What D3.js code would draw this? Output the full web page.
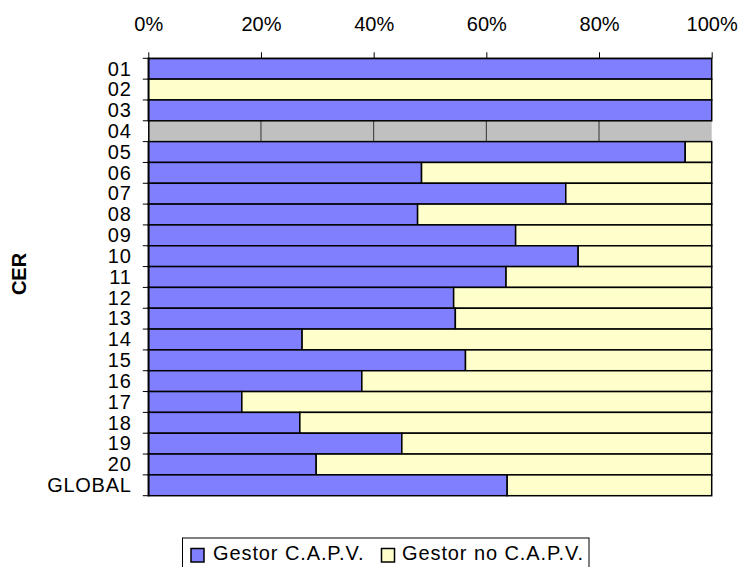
<!DOCTYPE html>
<html>
<head>
<meta charset="utf-8">
<script src="https://cdn.jsdelivr.net/npm/d3@7"></script>
<style>
  html, body { margin: 0; padding: 0; background: #fff; }
  svg { display: block; font-family: "Liberation Sans", Arial, sans-serif; }
</style>
</head>
<body>
<svg id="chart" width="741" height="567"></svg>
<script>
const categories = ["01","02","03","04","05","06","07","08","09","10","11","12","13","14","15","16","17","18","19","20","GLOBAL"];
const gestorCAPV   = [100, 0, 100, null, 95.3, 48.5, 74.1, 47.8, 65.2, 76.3, 63.5, 54.2, 54.5, 27.3, 56.3, 37.9, 16.6, 26.9, 45.0, 29.8, 63.7];
const gestorNoCAPV = [0, 100, 0, null, 4.7, 51.5, 25.9, 52.2, 34.8, 23.7, 36.5, 45.8, 45.5, 72.7, 43.7, 62.1, 83.4, 73.1, 55.0, 70.2, 36.3];
const seriesNames = ["Gestor C.A.P.V.", "Gestor no C.A.P.V."];
const seriesColors = ["#8080FF", "#FFFFCC"];
const xTicks = [0, 20, 40, 60, 80, 100];
const yTitle = "CER";

const FONT = "Liberation Sans, Arial, sans-serif";
const svg = d3.select("#chart");
const x = d3.scaleLinear().domain([0, 100]).range([148.3, 711.7]);
const y = d3.scaleBand().domain(categories).range([58.3, 495.7]).padding(0);

// plot background
svg.append("rect")
  .attr("x", x(0)).attr("y", y.range()[0])
  .attr("width", x(100) - x(0)).attr("height", y.range()[1] - y.range()[0])
  .attr("fill", "#C0C0C0");

// gridlines
svg.append("g").selectAll("line").data(xTicks.filter(t => t > 0 && t < 100)).join("line")
  .attr("x1", d => x(d)).attr("x2", d => x(d))
  .attr("y1", y.range()[0]).attr("y2", y.range()[1])
  .attr("stroke", "#333").attr("stroke-width", 1);

// stacked bars
const rows = categories.map((c, i) => ({ cat: c, vals: [gestorCAPV[i], gestorNoCAPV[i]] }));
const gBars = svg.append("g");
rows.forEach(r => {
  let acc = 0;
  r.vals.forEach((v, k) => {
    if (v === null || v <= 0) { if (v !== null) acc += v; return; }
    gBars.append("rect")
      .attr("x", x(acc)).attr("y", y(r.cat))
      .attr("width", x(acc + v) - x(acc)).attr("height", y.bandwidth())
      .attr("fill", seriesColors[k])
      .attr("stroke", "#000").attr("stroke-width", 1.5);
    acc += v;
  });
});

// top axis
const xAxis = d3.axisTop(x).tickValues(xTicks).tickFormat(d => d + "%").tickSize(6).tickSizeOuter(0);
const gx = svg.append("g").attr("transform", `translate(0,${y.range()[0]})`).call(xAxis);
gx.select(".domain").attr("stroke", "#000");
gx.selectAll(".tick line").attr("stroke", "#000");
gx.selectAll(".tick text").attr("font-size", "20px").attr("fill", "#000")
  .attr("font-family", FONT).attr("y", -27.5).attr("dy", 0);

// left axis
const yAxis = d3.axisLeft(y).tickSize(0).tickPadding(0);
const gy = svg.append("g").attr("transform", `translate(${x(0)},0)`).call(yAxis);
gy.select(".domain").attr("stroke", "#000").attr("stroke-width", 1.5);
gy.selectAll(".tick text").attr("font-size", "20px").attr("fill", "#000")
  .attr("font-family", FONT).attr("letter-spacing", "0.7px")
  .attr("x", 131.5 - x(0)).attr("dy", "0.34em");
// boundary ticks
const bounds = categories.map(c => y(c)).concat([y.range()[1]]);
svg.append("g").selectAll("line").data(bounds).join("line")
  .attr("x1", x(0) - 5.5).attr("x2", x(0))
  .attr("y1", d => d).attr("y2", d => d)
  .attr("stroke", "#000").attr("stroke-width", 1);

// y title
svg.append("text")
  .attr("transform", `translate(26,274) rotate(-90)`)
  .attr("text-anchor", "middle")
  .attr("font-family", FONT)
  .attr("font-size", "20px").attr("font-weight", "bold").attr("fill", "#000")
  .text(yTitle);

// legend
const lg = svg.append("g");
lg.append("rect").attr("x", 182.5).attr("y", 538).attr("width", 406.5).attr("height", 40)
  .attr("fill", "#fff").attr("stroke", "#000").attr("stroke-width", 1);
const legendItems = [{ sx: 191, tx: 213 }, { sx: 381.5, tx: 402 }];
seriesNames.forEach((n, i) => {
  lg.append("rect").attr("x", legendItems[i].sx).attr("y", 548.5).attr("width", 13).attr("height", 13.5)
    .attr("fill", seriesColors[i]).attr("stroke", "#000").attr("stroke-width", 1.5);
  lg.append("text").attr("x", legendItems[i].tx).attr("y", 559.5)
    .attr("font-family", FONT).attr("letter-spacing", "0.9px")
    .attr("font-size", "20px").attr("fill", "#000").text(n);
});
</script>
</body>
</html>
